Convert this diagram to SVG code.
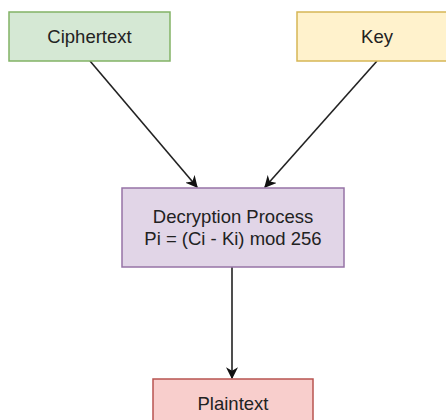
<svg xmlns="http://www.w3.org/2000/svg" width="446" height="420" viewBox="0 0 446 420">
<style>
text{font-family:"Liberation Sans",Arial,sans-serif;font-size:18.5px;fill:#222;text-anchor:middle}
.edge{stroke:#222;stroke-width:1.6;fill:none}
</style>
<defs>
<marker id="arr" viewBox="0 0 10 10" refX="9" refY="5" markerWidth="12" markerHeight="12" markerUnits="userSpaceOnUse" orient="auto">
<path d="M0,0 L10,5 L0,10 L3,5 Z" fill="#111"/>
</marker>
</defs>
<rect width="446" height="420" fill="#fff"/>
<g id="edges">
<line class="edge" x1="90" y1="61" x2="197" y2="187" marker-end="url(#arr)"/>
<line class="edge" x1="377" y1="61" x2="265" y2="187" marker-end="url(#arr)"/>
<line class="edge" x1="232" y1="267" x2="232" y2="378" stroke="#555" marker-end="url(#arr)"/>
</g>
<g id="ciphertext">
<rect x="9" y="12" width="161" height="49" fill="#d5e8d4" stroke="#82b366" stroke-width="1.5"/>
<text x="89.5" y="43">Ciphertext</text>
</g>
<g id="key">
<rect x="297" y="12" width="161" height="49" fill="#fff2cc" stroke="#d6b656" stroke-width="1.5"/>
<text x="377" y="43">Key</text>
</g>
<g id="decryption">
<rect x="122" y="188" width="222" height="79" fill="#e1d5e7" stroke="#9673a6" stroke-width="1.5"/>
<text x="233" y="223">Decryption Process</text>
<text x="233" y="245">Pi = (Ci - Ki) mod 256</text>
</g>
<g id="plaintext">
<rect x="153" y="379" width="160" height="49" fill="#f8cecc" stroke="#b85450" stroke-width="1.5"/>
<text x="233" y="410">Plaintext</text>
</g>
</svg>
